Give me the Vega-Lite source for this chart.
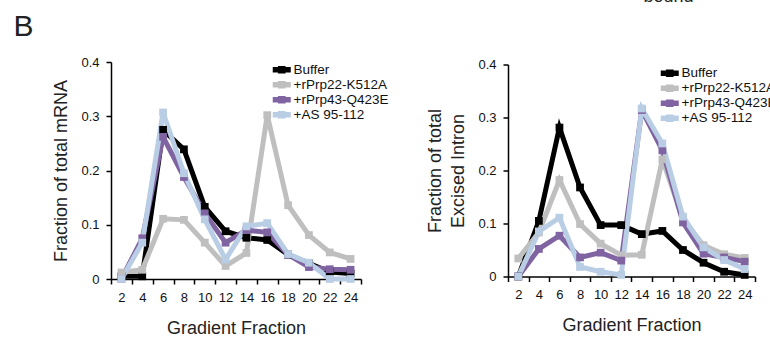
{
  "$schema": "https://vega.github.io/schema/vega-lite/v6.json",
  "autosize": {"type": "none"},
  "padding": {"left": 111, "top": 62, "right": 659, "bottom": 275},
  "background": "white",
  "datasets": {
    "mrna": [
      {"f": 2, "s": "Buffer", "v": 0.005}, {"f": 4, "s": "Buffer", "v": 0.005}, {"f": 6, "s": "Buffer", "v": 0.275}, {"f": 8, "s": "Buffer", "v": 0.239}, {"f": 10, "s": "Buffer", "v": 0.133}, {"f": 12, "s": "Buffer", "v": 0.088}, {"f": 14, "s": "Buffer", "v": 0.076}, {"f": 16, "s": "Buffer", "v": 0.072}, {"f": 18, "s": "Buffer", "v": 0.045}, {"f": 20, "s": "Buffer", "v": 0.029}, {"f": 22, "s": "Buffer", "v": 0.013}, {"f": 24, "s": "Buffer", "v": 0.010},
      {"f": 2, "s": "+rPrp22-K512A", "v": 0.012}, {"f": 4, "s": "+rPrp22-K512A", "v": 0.017}, {"f": 6, "s": "+rPrp22-K512A", "v": 0.111}, {"f": 8, "s": "+rPrp22-K512A", "v": 0.109}, {"f": 10, "s": "+rPrp22-K512A", "v": 0.067}, {"f": 12, "s": "+rPrp22-K512A", "v": 0.024}, {"f": 14, "s": "+rPrp22-K512A", "v": 0.048}, {"f": 16, "s": "+rPrp22-K512A", "v": 0.302}, {"f": 18, "s": "+rPrp22-K512A", "v": 0.136}, {"f": 20, "s": "+rPrp22-K512A", "v": 0.081}, {"f": 22, "s": "+rPrp22-K512A", "v": 0.049}, {"f": 24, "s": "+rPrp22-K512A", "v": 0.037},
      {"f": 2, "s": "+rPrp43-Q423E", "v": 0.0}, {"f": 4, "s": "+rPrp43-Q423E", "v": 0.075}, {"f": 6, "s": "+rPrp43-Q423E", "v": 0.262}, {"f": 8, "s": "+rPrp43-Q423E", "v": 0.188}, {"f": 10, "s": "+rPrp43-Q423E", "v": 0.121}, {"f": 12, "s": "+rPrp43-Q423E", "v": 0.067}, {"f": 14, "s": "+rPrp43-Q423E", "v": 0.090}, {"f": 16, "s": "+rPrp43-Q423E", "v": 0.086}, {"f": 18, "s": "+rPrp43-Q423E", "v": 0.045}, {"f": 20, "s": "+rPrp43-Q423E", "v": 0.022}, {"f": 22, "s": "+rPrp43-Q423E", "v": 0.018}, {"f": 24, "s": "+rPrp43-Q423E", "v": 0.017},
      {"f": 2, "s": "+AS 95-112", "v": 0.0}, {"f": 4, "s": "+AS 95-112", "v": 0.067}, {"f": 6, "s": "+AS 95-112", "v": 0.307}, {"f": 8, "s": "+AS 95-112", "v": 0.195}, {"f": 10, "s": "+AS 95-112", "v": 0.110}, {"f": 12, "s": "+AS 95-112", "v": 0.036}, {"f": 14, "s": "+AS 95-112", "v": 0.097}, {"f": 16, "s": "+AS 95-112", "v": 0.103}, {"f": 18, "s": "+AS 95-112", "v": 0.046}, {"f": 20, "s": "+AS 95-112", "v": 0.030}, {"f": 22, "s": "+AS 95-112", "v": 0.0}, {"f": 24, "s": "+AS 95-112", "v": 0.0}
    ],
    "intron": [
      {"f": 2, "s": "Buffer", "v": 0.0}, {"f": 4, "s": "Buffer", "v": 0.105}, {"f": 6, "s": "Buffer", "v": 0.281}, {"f": 8, "s": "Buffer", "v": 0.168}, {"f": 10, "s": "Buffer", "v": 0.097}, {"f": 12, "s": "Buffer", "v": 0.097}, {"f": 14, "s": "Buffer", "v": 0.080}, {"f": 16, "s": "Buffer", "v": 0.086}, {"f": 18, "s": "Buffer", "v": 0.050}, {"f": 20, "s": "Buffer", "v": 0.026}, {"f": 22, "s": "Buffer", "v": 0.009}, {"f": 24, "s": "Buffer", "v": 0.003},
      {"f": 2, "s": "+rPrp22-K512A", "v": 0.034}, {"f": 4, "s": "+rPrp22-K512A", "v": 0.083}, {"f": 6, "s": "+rPrp22-K512A", "v": 0.182}, {"f": 8, "s": "+rPrp22-K512A", "v": 0.099}, {"f": 10, "s": "+rPrp22-K512A", "v": 0.062}, {"f": 12, "s": "+rPrp22-K512A", "v": 0.040}, {"f": 14, "s": "+rPrp22-K512A", "v": 0.041}, {"f": 16, "s": "+rPrp22-K512A", "v": 0.221}, {"f": 18, "s": "+rPrp22-K512A", "v": 0.108}, {"f": 20, "s": "+rPrp22-K512A", "v": 0.059}, {"f": 22, "s": "+rPrp22-K512A", "v": 0.042}, {"f": 24, "s": "+rPrp22-K512A", "v": 0.035},
      {"f": 2, "s": "+rPrp43-Q423E", "v": 0.0}, {"f": 4, "s": "+rPrp43-Q423E", "v": 0.052}, {"f": 6, "s": "+rPrp43-Q423E", "v": 0.077}, {"f": 8, "s": "+rPrp43-Q423E", "v": 0.036}, {"f": 10, "s": "+rPrp43-Q423E", "v": 0.045}, {"f": 12, "s": "+rPrp43-Q423E", "v": 0.030}, {"f": 14, "s": "+rPrp43-Q423E", "v": 0.314}, {"f": 16, "s": "+rPrp43-Q423E", "v": 0.238}, {"f": 18, "s": "+rPrp43-Q423E", "v": 0.102}, {"f": 20, "s": "+rPrp43-Q423E", "v": 0.043}, {"f": 22, "s": "+rPrp43-Q423E", "v": 0.036}, {"f": 24, "s": "+rPrp43-Q423E", "v": 0.028},
      {"f": 2, "s": "+AS 95-112", "v": 0.0}, {"f": 4, "s": "+AS 95-112", "v": 0.085}, {"f": 6, "s": "+AS 95-112", "v": 0.111}, {"f": 8, "s": "+AS 95-112", "v": 0.018}, {"f": 10, "s": "+AS 95-112", "v": 0.009}, {"f": 12, "s": "+AS 95-112", "v": 0.003}, {"f": 14, "s": "+AS 95-112", "v": 0.317}, {"f": 16, "s": "+AS 95-112", "v": 0.251}, {"f": 18, "s": "+AS 95-112", "v": 0.113}, {"f": 20, "s": "+AS 95-112", "v": 0.055}, {"f": 22, "s": "+AS 95-112", "v": 0.031}, {"f": 24, "s": "+AS 95-112", "v": 0.014}
    ]
  },
  "bounds": "flush",
  "spacing": 147,
  "center": true,
  "resolve": {"scale": {"y": "independent", "x": "independent"}, "legend": {"color": "independent"}},
  "hconcat": [
    {
      "width": 250,
      "height": 217,
      "data": {"name": "mrna"},
      "encoding": {
        "y": {"field": "v", "type": "quantitative", "scale": {"domain": [0, 0.4], "nice": false}, "axis": {"title": "Fraction of total mRNA", "values": [0, 0.1, 0.2, 0.3, 0.4], "format": "~g"}},
        "color": {"field": "s", "type": "nominal", "scale": {"domain": ["Buffer", "+rPrp22-K512A", "+rPrp43-Q423E", "+AS 95-112"], "range": ["#000000", "#BFBFBF", "#8064A2", "#B9CDE5"]}, "legend": {"title": null, "orient": "none", "legendX": 164, "legendY": 1, "encode": {"symbols": {"update": {"fill": {"scale": "color", "field": "value"}, "strokeWidth": {"value": 0}}}}}}
      },
      "resolve": {"axis": {"x": "independent"}},
      "layer": [
        {"mark": {"type": "line", "strokeWidth": 5, "strokeJoin": "miter"},
         "encoding": {"x": {"field": "f", "type": "ordinal", "bandPosition": 0.5, "scale": {"type": "band", "paddingInner": 0, "paddingOuter": 0}, "axis": {"title": "Gradient Fraction", "labelAngle": 0, "tickBand": "extent"}}}},
        {"mark": {"type": "point", "shape": "square", "filled": true, "size": 60, "opacity": 1},
         "encoding": {"x": {"field": "f", "type": "ordinal", "bandPosition": 0.5, "scale": {"type": "band", "paddingInner": 0, "paddingOuter": 0}, "axis": {"orient": "top", "title": "B", "labels": false, "ticks": false, "domain": false, "titleX": -98, "titleY": -27, "titleAlign": "left", "titleAnchor": "start", "titleBaseline": "alphabetic", "titleAngle": 0, "titleFontSize": 30, "titleColor": "#222"}}}}
      ]
    },
    {
      "width": 247,
      "height": 212,
      "data": {"name": "intron"},
      "encoding": {
        "y": {"field": "v", "type": "quantitative", "scale": {"domain": [0, 0.4], "nice": false}, "axis": {"title": ["Fraction of total", "Excised Intron"], "values": [0, 0.1, 0.2, 0.3, 0.4], "format": "~g"}},
        "color": {"field": "s", "type": "nominal", "scale": {"domain": ["Buffer", "+rPrp22-K512A", "+rPrp43-Q423E", "+AS 95-112"], "range": ["#000000", "#BFBFBF", "#8064A2", "#B9CDE5"]}, "legend": {"title": null, "orient": "none", "legendX": 155, "legendY": 2, "encode": {"symbols": {"update": {"fill": {"scale": "color", "field": "value"}, "strokeWidth": {"value": 0}}}}}}
      },
      "resolve": {"axis": {"x": "independent"}},
      "layer": [
        {"mark": {"type": "line", "strokeWidth": 5, "strokeJoin": "miter"},
         "encoding": {"x": {"field": "f", "type": "ordinal", "bandPosition": 0.5, "scale": {"type": "band", "paddingInner": 0, "paddingOuter": 0}, "axis": {"title": "Gradient Fraction", "labelAngle": 0, "tickBand": "extent"}}}},
        {"mark": {"type": "point", "shape": "square", "filled": true, "size": 60, "opacity": 1},
         "encoding": {"x": {"field": "f", "type": "ordinal", "bandPosition": 0.5, "scale": {"type": "band", "paddingInner": 0, "paddingOuter": 0}, "axis": {"orient": "top", "title": "bound", "labels": false, "ticks": false, "domain": false, "titleX": 135, "titleY": -63, "titleAlign": "left", "titleAnchor": "start", "titleBaseline": "alphabetic", "titleAngle": 0, "titleFontSize": 18, "titleColor": "#222"}}}}
      ]
    }
  ],
  "config": {
    "font": "Liberation Sans",
    "view": {"stroke": null},
    "axis": {"grid": false, "domainColor": "#000", "domainWidth": 1.5, "tickColor": "#000", "tickWidth": 1.5, "tickSize": 5, "labelFont": "Liberation Sans", "labelFontSize": 13, "labelColor": "#111", "titleFont": "Liberation Sans", "titleFontSize": 18, "titleFontWeight": "normal", "titleColor": "#222", "titleLineHeight": 23},
    "axisX": {"labelPadding": 7, "titlePadding": 15},
    "axisY": {"labelPadding": 7, "titlePadding": 10},
    "legend": {"labelFont": "Liberation Sans", "labelFontSize": 13.5, "labelColor": "#111", "symbolSize": 81, "symbolType": "M-2,-0.6H2V0.6H-2Z M-0.85,-0.85H0.85V0.85H-0.85Z", "symbolStrokeWidth": 0, "labelOffset": 5, "rowPadding": 0, "padding": 0}
  }
}
